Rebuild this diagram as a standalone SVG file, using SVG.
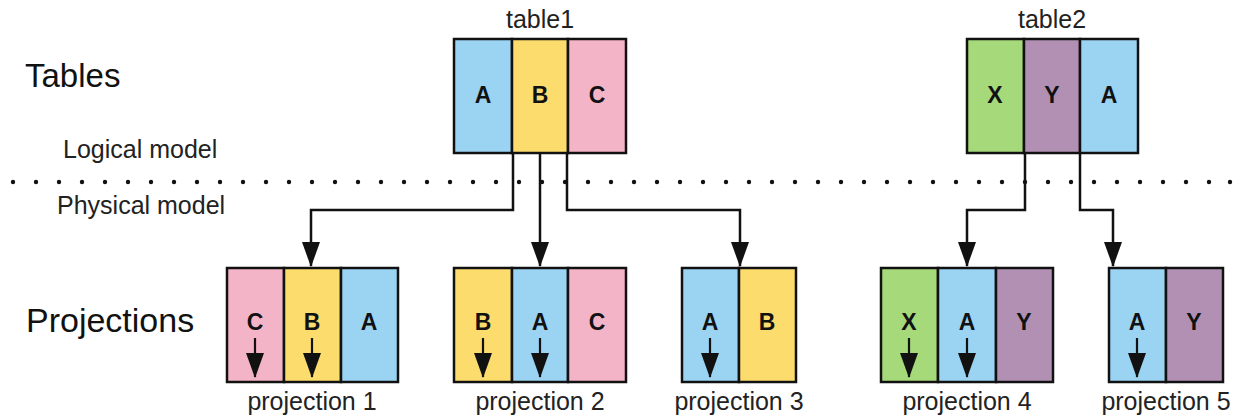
<svg xmlns="http://www.w3.org/2000/svg" width="1243" height="417" viewBox="0 0 1243 417">
  <style>
    .col { stroke: #111; stroke-width: 2.5; }
    .a { fill: #9bd3f2; }
    .b { fill: #fddc6e; }
    .c { fill: #f4b4c8; }
    .x { fill: #a5d97a; }
    .y { fill: #b290b4; }
    .letter { font-family: "Liberation Sans", Arial, sans-serif; font-weight: bold; font-size: 23px; fill: #111; text-anchor: middle; }
    .label { font-family: "Liberation Sans", Arial, sans-serif; font-size: 25px; fill: #222; text-anchor: middle; }
    .heading { font-family: "Liberation Sans", Arial, sans-serif; font-size: 33px; fill: #111; }
    .model { font-family: "Liberation Sans", Arial, sans-serif; font-size: 25px; fill: #222; }
    .wire { fill: none; stroke: #111; stroke-width: 2.5; }
    .sort { stroke: #111; stroke-width: 2.2; }
  </style>
  <defs>
    <marker id="head" markerUnits="userSpaceOnUse" markerWidth="25" markerHeight="18" refX="24" refY="9" orient="auto" viewBox="0 0 25 18">
      <path d="M0 0 L25 9 L0 18 Z" fill="#111"/>
    </marker>
  </defs>

  <rect width="1243" height="417" fill="#fff"/>

  <!-- section headings -->
  <text class="heading" x="25" y="87">Tables</text>
  <text class="heading" x="26" y="332" style="font-size:34px">Projections</text>
  <text class="model" x="63" y="158">Logical model</text>
  <text class="model" x="57" y="214">Physical model</text>

  <!-- logical / physical divider -->
  <g id="divider" fill="#111">
    <circle cx="13" cy="182" r="2.2"/><circle cx="36" cy="182" r="2.2"/><circle cx="59" cy="182" r="2.2"/>
    <circle cx="82" cy="182" r="2.2"/><circle cx="105" cy="182" r="2.2"/><circle cx="128" cy="182" r="2.2"/>
    <circle cx="151" cy="182" r="2.2"/><circle cx="174" cy="182" r="2.2"/><circle cx="197" cy="182" r="2.2"/>
    <circle cx="220" cy="182" r="2.2"/><circle cx="243" cy="182" r="2.2"/><circle cx="266" cy="182" r="2.2"/>
    <circle cx="289" cy="182" r="2.2"/><circle cx="312" cy="182" r="2.2"/><circle cx="335" cy="182" r="2.2"/>
    <circle cx="358" cy="182" r="2.2"/><circle cx="381" cy="182" r="2.2"/><circle cx="404" cy="182" r="2.2"/>
    <circle cx="427" cy="182" r="2.2"/><circle cx="450" cy="182" r="2.2"/><circle cx="473" cy="182" r="2.2"/>
    <circle cx="496" cy="182" r="2.2"/><circle cx="519" cy="182" r="2.2"/><circle cx="542" cy="182" r="2.2"/>
    <circle cx="565" cy="182" r="2.2"/><circle cx="588" cy="182" r="2.2"/><circle cx="611" cy="182" r="2.2"/>
    <circle cx="634" cy="182" r="2.2"/><circle cx="657" cy="182" r="2.2"/><circle cx="680" cy="182" r="2.2"/>
    <circle cx="703" cy="182" r="2.2"/><circle cx="726" cy="182" r="2.2"/><circle cx="749" cy="182" r="2.2"/>
    <circle cx="772" cy="182" r="2.2"/><circle cx="795" cy="182" r="2.2"/><circle cx="818" cy="182" r="2.2"/>
    <circle cx="841" cy="182" r="2.2"/><circle cx="864" cy="182" r="2.2"/><circle cx="887" cy="182" r="2.2"/>
    <circle cx="910" cy="182" r="2.2"/><circle cx="933" cy="182" r="2.2"/><circle cx="956" cy="182" r="2.2"/>
    <circle cx="979" cy="182" r="2.2"/><circle cx="1002" cy="182" r="2.2"/><circle cx="1025" cy="182" r="2.2"/>
    <circle cx="1048" cy="182" r="2.2"/><circle cx="1071" cy="182" r="2.2"/><circle cx="1094" cy="182" r="2.2"/>
    <circle cx="1117" cy="182" r="2.2"/><circle cx="1140" cy="182" r="2.2"/><circle cx="1163" cy="182" r="2.2"/>
    <circle cx="1186" cy="182" r="2.2"/><circle cx="1209" cy="182" r="2.2"/><circle cx="1230" cy="182" r="2.2"/>
  </g>

  <!-- connectors: table columns to projections -->
  <g id="connectors">
    <path class="wire" d="M513 153 V210 H311 V266" marker-end="url(#head)"/>
    <path class="wire" d="M540 153 V266" marker-end="url(#head)"/>
    <path class="wire" d="M567 153 V210 H740 V266" marker-end="url(#head)"/>
    <path class="wire" d="M1025 153 V210 H967 V266" marker-end="url(#head)"/>
    <path class="wire" d="M1080 153 V210 H1113 V266" marker-end="url(#head)"/>
  </g>

  <!-- table1 -->
  <g id="table1">
    <text class="label" x="540" y="28">table1</text>
    <rect class="col a" x="454" y="39" width="58" height="114"/>
    <rect class="col b" x="512" y="39" width="56" height="114"/>
    <rect class="col c" x="568" y="39" width="58" height="114"/>
    <text class="letter" x="483" y="103">A</text>
    <text class="letter" x="540" y="103">B</text>
    <text class="letter" x="597" y="103">C</text>
  </g>

  <!-- table2 -->
  <g id="table2">
    <text class="label" x="1052" y="28">table2</text>
    <rect class="col x" x="967" y="39" width="57" height="114"/>
    <rect class="col y" x="1024" y="39" width="56" height="114"/>
    <rect class="col a" x="1080" y="39" width="58" height="114"/>
    <text class="letter" x="995" y="103">X</text>
    <text class="letter" x="1052" y="103">Y</text>
    <text class="letter" x="1109" y="103">A</text>
  </g>

  <!-- projection 1 -->
  <g id="projection1">
    <rect class="col c" x="227" y="268" width="57" height="114"/>
    <rect class="col b" x="284" y="268" width="57" height="114"/>
    <rect class="col a" x="341" y="268" width="57" height="114"/>
    <text class="letter" x="255" y="330">C</text>
    <text class="letter" x="312" y="330">B</text>
    <text class="letter" x="369" y="330">A</text>
    <line class="sort" x1="255" y1="338" x2="255" y2="377" marker-end="url(#head)"/>
    <line class="sort" x1="312" y1="338" x2="312" y2="377" marker-end="url(#head)"/>
    <text class="label" x="312" y="410">projection 1</text>
  </g>

  <!-- projection 2 -->
  <g id="projection2">
    <rect class="col b" x="454" y="268" width="58" height="114"/>
    <rect class="col a" x="512" y="268" width="56" height="114"/>
    <rect class="col c" x="568" y="268" width="58" height="114"/>
    <text class="letter" x="483" y="330">B</text>
    <text class="letter" x="540" y="330">A</text>
    <text class="letter" x="597" y="330">C</text>
    <line class="sort" x1="483" y1="338" x2="483" y2="377" marker-end="url(#head)"/>
    <line class="sort" x1="540" y1="338" x2="540" y2="377" marker-end="url(#head)"/>
    <text class="label" x="540" y="410">projection 2</text>
  </g>

  <!-- projection 3 -->
  <g id="projection3">
    <rect class="col a" x="682" y="268" width="57" height="114"/>
    <rect class="col b" x="739" y="268" width="57" height="114"/>
    <text class="letter" x="710" y="330">A</text>
    <text class="letter" x="767" y="330">B</text>
    <line class="sort" x1="710" y1="338" x2="710" y2="377" marker-end="url(#head)"/>
    <text class="label" x="739" y="410">projection 3</text>
  </g>

  <!-- projection 4 -->
  <g id="projection4">
    <rect class="col x" x="881" y="268" width="57" height="114"/>
    <rect class="col a" x="938" y="268" width="58" height="114"/>
    <rect class="col y" x="996" y="268" width="57" height="114"/>
    <text class="letter" x="909" y="330">X</text>
    <text class="letter" x="967" y="330">A</text>
    <text class="letter" x="1024" y="330">Y</text>
    <line class="sort" x1="909" y1="338" x2="909" y2="377" marker-end="url(#head)"/>
    <line class="sort" x1="967" y1="338" x2="967" y2="377" marker-end="url(#head)"/>
    <text class="label" x="967" y="410">projection 4</text>
  </g>

  <!-- projection 5 -->
  <g id="projection5">
    <rect class="col a" x="1109" y="268" width="57" height="114"/>
    <rect class="col y" x="1166" y="268" width="57" height="114"/>
    <text class="letter" x="1137" y="330">A</text>
    <text class="letter" x="1194" y="330">Y</text>
    <line class="sort" x1="1137" y1="338" x2="1137" y2="377" marker-end="url(#head)"/>
    <text class="label" x="1166" y="410">projection 5</text>
  </g>
</svg>
